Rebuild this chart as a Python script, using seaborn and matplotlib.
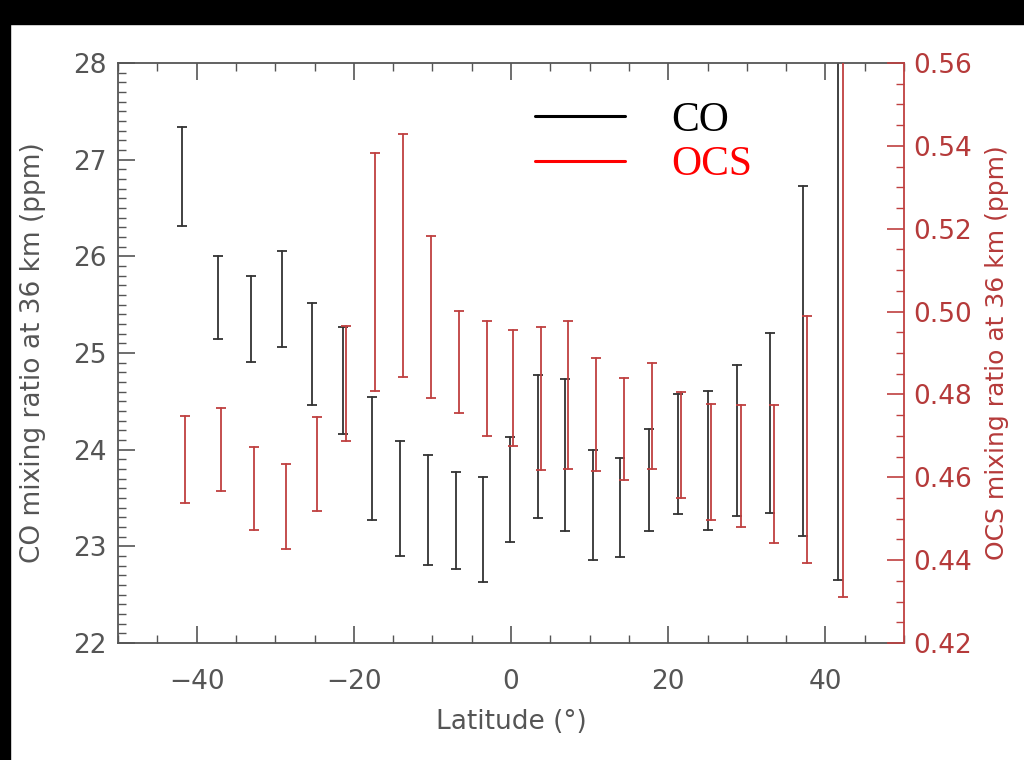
import numpy as np
import pandas as pd
import matplotlib
matplotlib.use("Agg")
import matplotlib.pyplot as plt
from matplotlib.patches import Rectangle
from matplotlib.ticker import MultipleLocator
from matplotlib.lines import Line2D
import seaborn as sns

# ---- data ----
co_lat = [-41.9, -37.3, -33.1, -29.1, -25.3, -21.4, -17.7, -14.1, -10.6, -7.0, -3.5, -0.1,
          3.4, 6.9, 10.4, 13.9, 17.5, 21.2, 25.0, 28.8, 32.9, 37.1, 41.6]
co_low = [26.31, 25.14, 24.91, 25.06, 24.46, 24.16, 23.27, 22.90, 22.81, 22.77, 22.63, 23.04,
          23.29, 23.16, 22.86, 22.89, 23.16, 23.33, 23.17, 23.31, 23.34, 23.11, 22.65]
co_high = [27.34, 26.00, 25.80, 26.06, 25.52, 25.27, 24.55, 24.09, 23.94, 23.77, 23.72, 24.13,
           24.77, 24.73, 24.00, 23.91, 24.21, 24.58, 24.61, 24.88, 25.21, 26.73, 28.60]

ocs_lat = [-41.5, -36.9, -32.7, -28.6, -24.7, -21.0, -17.3, -13.7, -10.2, -6.6, -3.1, 0.3,
           3.8, 7.3, 10.8, 14.4, 18.0, 21.6, 25.4, 29.3, 33.4, 37.6, 42.2]
ocs_low = [0.4539, 0.4567, 0.4473, 0.4427, 0.4518, 0.4688, 0.4809, 0.4843, 0.4792, 0.4756, 0.4700, 0.4675,
           0.4618, 0.4619, 0.4615, 0.4593, 0.4619, 0.4549, 0.4497, 0.4481, 0.4442, 0.4394, 0.4310]
ocs_high = [0.4749, 0.4767, 0.4672, 0.4632, 0.4746, 0.4965, 0.5382, 0.5429, 0.5182, 0.5001, 0.4978, 0.4955,
            0.4963, 0.4978, 0.4889, 0.4839, 0.4875, 0.4805, 0.4776, 0.4774, 0.4774, 0.4990, 0.5700]

legend_labels = ["CO", "OCS"]
x_ticks = [-40, -20, 0, 20, 40]

GREY = "#555555"
CO_C = "#333333"
OCS_C = "#bf4040"
OCS_TXT = "#b53a3a"

sns.set_theme(style="ticks")
plt.rcParams["font.family"] = ["DejaVu Sans"]

co_df = pd.DataFrame({"lat": np.repeat(co_lat, 2),
                      "val": np.ravel(np.column_stack([co_low, co_high]))})
ocs_df = pd.DataFrame({"lat": np.repeat(ocs_lat, 2),
                       "val": np.ravel(np.column_stack([ocs_low, ocs_high]))})

fig = plt.figure(figsize=(10.24, 7.6), dpi=100, facecolor="white")
ax = fig.add_axes([118 / 1024, 1 - 643 / 760, 786 / 1024, 580 / 760])
ax2 = ax.twinx()

rng = lambda v: (v.min(), v.max())
sns.lineplot(data=co_df, x="lat", y="val", estimator="mean", errorbar=rng,
             err_style="bars", color=CO_C, linewidth=0, ax=ax,
             err_kws=dict(capsize=3.5, elinewidth=1.3, capthick=1.3, ecolor=CO_C))
sns.lineplot(data=ocs_df, x="lat", y="val", estimator="mean", errorbar=rng,
             err_style="bars", color=OCS_C, linewidth=0, ax=ax2,
             err_kws=dict(capsize=3.5, elinewidth=1.3, capthick=1.3, ecolor=OCS_C))

ax.set_xlim(-50, 50)
ax.set_ylim(22, 28)
ax2.set_ylim(0.42, 0.56)

ax.set_xticks(x_ticks)
ax.xaxis.set_minor_locator(MultipleLocator(5))
ax.yaxis.set_major_locator(MultipleLocator(1))
ax.yaxis.set_minor_locator(MultipleLocator(0.1))
ax2.yaxis.set_major_locator(MultipleLocator(0.02))
ax2.yaxis.set_minor_locator(MultipleLocator(0.005))
ax2.yaxis.set_major_formatter(matplotlib.ticker.FormatStrFormatter("%.2f"))

ax.tick_params(axis="both", which="major", direction="in", length=12, width=1.2,
               color=GREY, labelcolor=GREY, labelsize=19, top=True, right=False)
ax.tick_params(axis="x", which="major", pad=19)
ax.tick_params(axis="y", which="major", pad=8)
ax.tick_params(axis="both", which="minor", direction="in", length=6, width=1.0,
               color=GREY, top=True, right=False)
ax2.tick_params(axis="y", which="major", direction="in", length=12, width=1.2,
                color=OCS_C, labelcolor=OCS_TXT, labelsize=19, pad=7)
ax2.tick_params(axis="y", which="minor", direction="in", length=6, width=1.0, color=OCS_C)

for s in ["left", "top", "bottom"]:
    ax.spines[s].set_color(GREY)
    ax.spines[s].set_linewidth(1.3)
ax.spines["right"].set_visible(False)
for s in ["left", "top", "bottom"]:
    ax2.spines[s].set_visible(False)
ax2.spines["right"].set_visible(True)
ax2.spines["right"].set_color(OCS_C)
ax2.spines["right"].set_linewidth(1.3)

ax.set_xlabel("Latitude (°)", fontsize=19, color=GREY, labelpad=10)
ax.set_ylabel("CO mixing ratio at 36 km (ppm)", fontsize=19, color=GREY, labelpad=20)
ax2.set_ylabel("OCS mixing ratio at 36 km (ppm)", fontsize=18, color=OCS_TXT, labelpad=9)

# legend
handles = [Line2D([], [], color="black", lw=2.2), Line2D([], [], color="red", lw=2.2)]
leg = ax.legend(handles, legend_labels, loc="upper left", bbox_to_anchor=(0.5045, 0.97),
                frameon=False, handlelength=2.15, handletextpad=1.1, labelspacing=0.15,
                borderpad=0, prop={"family": "Liberation Serif", "size": 30})
for t, c in zip(leg.get_texts(), ["black", "red"]):
    t.set_color(c)

# black frame of the screenshot
fig.patches.append(Rectangle((0, 1 - 24 / 760), 1, 24 / 760, transform=fig.transFigure,
                             color="black", zorder=-1))
fig.patches.append(Rectangle((0, 0), 10 / 1024, 1, transform=fig.transFigure,
                             color="black", zorder=-1))

fig.savefig("out.png", dpi=100, facecolor="white")
